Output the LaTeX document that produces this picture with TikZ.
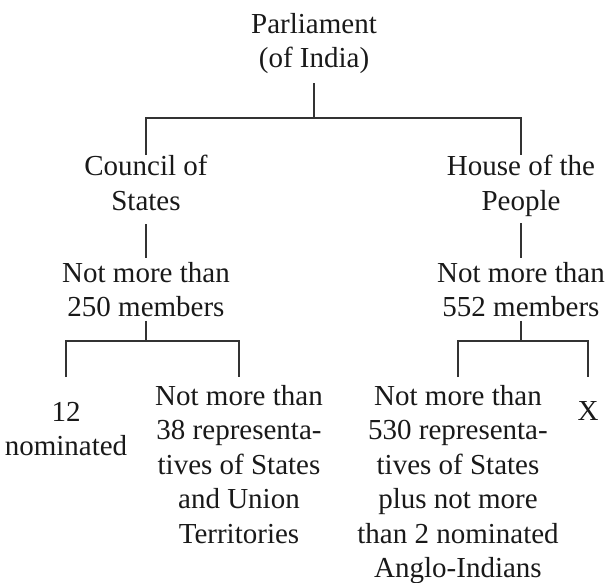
\documentclass[tikz,border=0pt]{standalone}
\usepackage{fontspec}
\setmainfont{Liberation Serif}
\usepackage{tikz}

\begin{document}
\begin{tikzpicture}[x=1pt,y=-1pt,
    box/.style={anchor=north, inner sep=0pt, align=center, font=\fontsize{29}{34.5}\selectfont, text=black!90},
    link/.style={line width=1.6pt, black!80}]
  \useasboundingbox (0,0) rectangle (610,583);
  %% ========================================================
  \node[box] (parl) at (314,13) {Parliament\\(of India)};
  \node[box] (council) at (146,155) {Council of\\States};
  \node[box] (house) at (521,155) {House of the\\People};
  \coordinate (top) at (314,118);
  \draw[link, shorten <=9pt] (parl) -- (top);
  \draw[link] (council) |- (top) -| (house);

  %% ========================================================
  \node[box] (cs250) at (146,262) {Not more than\\250 members};
  \node[box] (hp552) at (521,262) {Not more than\\552 members};
  \draw[link, shorten <=13.5pt, shorten >=4pt] (council) -- (cs250);
  \draw[link, shorten <=7pt, shorten >=4pt] (house) -- (hp552);

  %% ========================================================
  \node[box] (nom12) at (66,402) {12\\nominated};
  \node[box] (cs38) at (239,385) {Not more than\\38 representa-\\tives of States\\and Union\\Territories};
  \node[box] (hp530) at (458,385) {Not more than\\530 representa-\\tives of States\\plus not more\\than 2 nominated\\Anglo-Indians};
  \node[box] (xx) at (588,401) {X};
  \coordinate (cssplit) at (146,341);
  \coordinate (hpsplit) at (521,341);
  \draw[link, shorten <=3.5pt] (cs250) -- (cssplit);
  \draw[link, shorten <=3.5pt] (hp552) -- (hpsplit);
  \draw[link, shorten <=25pt, shorten >=8pt] (nom12) |- (cssplit) -| (cs38);
  \draw[link, shorten <=8pt, shorten >=24pt] (hp530) |- (hpsplit) -| (xx);
\end{tikzpicture}
\end{document}
